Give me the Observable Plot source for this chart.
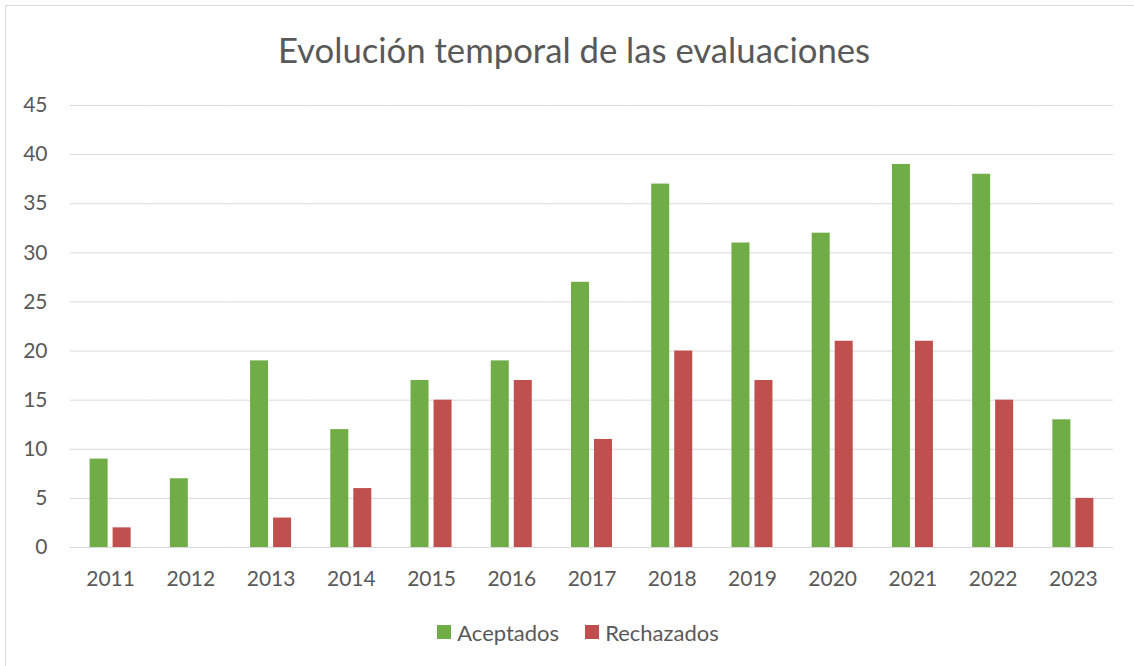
<!DOCTYPE html>
<html>
<head>
<meta charset="utf-8">
<script src="https://cdn.jsdelivr.net/npm/d3@7"></script>
<script src="https://cdn.jsdelivr.net/npm/@observablehq/plot@0.6"></script>
<style>
  html, body { margin: 0; padding: 0; background: #fff; }
  #frame { position: absolute; left: 5px; top: 5px; width: 1129px; height: 661px;
           border-left: 1px solid #d9d9d9; border-top: 1px solid #d9d9d9; box-sizing: border-box; }
  #title { position: absolute; left: 0; top: 22px; width: 1148px; height: 56px; line-height: 56px;
           text-align: center; font-family: Lato, sans-serif; font-size: 34.7px; color: #595959; }
  #chart { position: absolute; left: 0; top: 80px; }
  #legend { position: absolute; left: 0; top: 616px; width: 1156px; height: 32px; display: flex;
            justify-content: center; align-items: center; gap: 26px;
            font-family: Lato, sans-serif; font-size: 22px; color: #595959; }
  .item { display: flex; align-items: center; gap: 6px; }
  .sw { width: 14px; height: 14px; display: inline-block; }
</style>
</head>
<body>
<div id="frame"></div>
<div id="title">Evolución temporal de las evaluaciones</div>
<div id="chart"></div>
<div id="legend"></div>
<script>
const years = ["2011","2012","2013","2014","2015","2016","2017","2018","2019","2020","2021","2022","2023"];
const aceptados  = [9, 7, 19, 12, 17, 19, 27, 37, 31, 32, 39, 38, 13];
const rechazados = [2, 0, 3, 6, 15, 17, 11, 20, 17, 21, 21, 15, 5];
const seriesNames = ["Aceptados", "Rechazados"];
const seriesColors = ["#70ad47", "#c0504d"];
const yTicks = [0, 5, 10, 15, 20, 25, 30, 35, 40, 45];

const data = [];
years.forEach((y, i) => {
  data.push({year: y, series: "Aceptados", value: aceptados[i]});
  data.push({year: y, series: "Rechazados", value: rechazados[i]});
});

const plot = Plot.plot({
  width: 1134,
  height: 520,
  marginTop: 25,
  marginBottom: 53,
  marginLeft: 70,
  marginRight: 21,
  style: { fontFamily: "Lato, sans-serif", color: "#595959", background: "transparent" },
  fx: { domain: years, padding: 0, label: null, round: false },
  x: { domain: seriesNames, paddingInner: 0.217, paddingOuter: 0.852, axis: null, round: false },
  y: { domain: [0, 45], ticks: yTicks, label: null },
  color: { domain: seriesNames, range: seriesColors },
  marks: [
    Plot.gridY(yTicks, { stroke: "#d9d9d9", strokeOpacity: 1, strokeWidth: 1 }),
    Plot.axisY(yTicks, { tickSize: 0, tickPadding: 23, fontSize: 21, label: null }),
    Plot.axisFx({ anchor: "bottom", tickSize: 0, tickPadding: 24, fontSize: 21, label: null }),
    Plot.barY(data, { fx: "year", x: "series", y: "value", fill: "series" })
  ]
});
document.getElementById("chart").appendChild(plot);

const legend = document.getElementById("legend");
seriesNames.forEach((name, i) => {
  const item = document.createElement("div");
  item.className = "item";
  const sw = document.createElement("span");
  sw.className = "sw";
  sw.style.background = seriesColors[i];
  const label = document.createElement("span");
  label.textContent = name;
  item.appendChild(sw);
  item.appendChild(label);
  legend.appendChild(item);
});
</script>
</body>
</html>
